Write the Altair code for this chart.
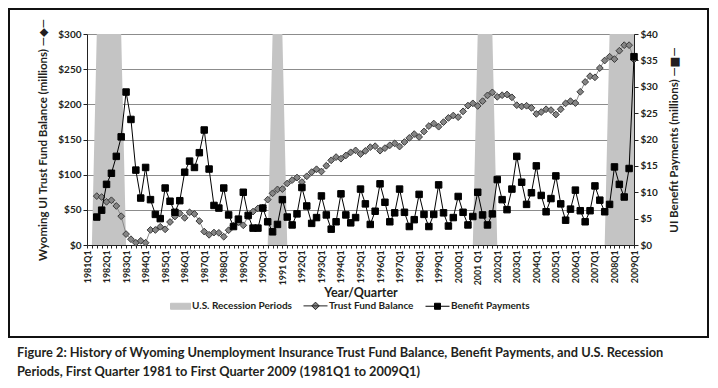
import altair as alt
import pandas as pd

# ---------------- data ----------------
years = list(range(1981, 2010))
quarters = [f"{y}Q{q}" for y in years for q in (1, 2, 3, 4)][:113]
quarters = [q.replace("1991Q1", "1991 Q1").replace("2001Q1", "2001 Q1") for q in quarters]

first_quarter = "1981Q3"

# Trust fund balance, $ millions (left axis), 1981Q3 .. 2009Q1
trust_fund = [
    69.5, 68.2, 61.4, 63.6, 55.5, 40.9, 15.5, 8.2, 3.2, 5.9,
    3.2, 21.4, 21.4, 25.9, 22.3, 32.7, 40.5, 45.0, 38.6, 46.4,
    44.1, 34.1, 19.1, 14.5, 17.7, 17.3, 11.8, 21.0, 27.5, 32.5,
    28.0, 40.9, 47.5, 52.0, 53.0, 64.5, 73.5, 79.0, 79.5, 87.5,
    92.3, 95.9, 89.5, 97.7, 103.6, 107.7, 104.5, 112.7, 120.4, 125.0,
    122.7, 127.3, 131.8, 134.5, 129.3, 133.8, 139.1, 140.5, 134.1, 137.7,
    141.8, 144.5, 140.0, 146.4, 152.3, 157.7, 153.6, 161.4, 169.1, 172.7,
    168.2, 174.7, 180.7, 184.1, 181.8, 190.0, 198.2, 201.4, 197.7, 204.5,
    212.7, 217.0, 210.7, 213.0, 214.0, 210.0, 198.8, 197.0, 198.0, 195.0,
    186.4, 189.0, 193.0, 191.8, 185.5, 193.0, 201.4, 204.5, 201.8, 217.8,
    231.8, 240.0, 238.4, 251.6, 262.3, 267.7, 264.3, 276.2, 284.1, 284.1,
    263.6,
]

# UI benefit payments, $ millions (right axis), 1981Q3 .. 2009Q1
benefits = [
    5.3, 6.6, 11.5, 13.6, 16.8, 20.5, 29.0, 23.8, 14.2, 8.9,
    14.7, 8.6, 5.8, 5.0, 10.8, 8.3, 6.2, 8.4, 13.8, 15.9,
    14.7, 17.5, 21.8, 14.4, 7.5, 7.0, 10.8, 5.7, 3.5, 4.9,
    10.0, 5.6, 3.2, 3.2, 7.0, 4.4, 2.5, 3.9, 8.6, 5.3,
    3.8, 5.9, 10.9, 7.4, 4.1, 5.2, 9.3, 5.7, 3.0, 4.4,
    9.7, 5.7, 4.2, 5.2, 10.6, 7.8, 3.9, 6.4, 11.6, 8.1,
    4.4, 6.1, 10.6, 6.2, 3.5, 4.8, 9.6, 5.8, 3.5, 5.8,
    11.4, 6.1, 3.6, 5.2, 9.2, 6.2, 3.8, 5.4, 10.0, 5.7,
    3.8, 5.9, 12.4, 8.6, 6.7, 10.6, 16.8, 11.9, 7.7, 9.9,
    15.0, 9.4, 6.3, 8.8, 13.1, 7.8, 4.7, 6.8, 10.4, 6.5,
    4.4, 6.5, 11.2, 8.5, 6.3, 7.7, 14.8, 11.5, 9.1, 14.5,
    35.7,
]

recession_periods = [("1981Q3", "1982Q4"), ("1990Q3", "1991 Q1"),
                     ("2001 Q1", "2001Q4"), ("2007Q4", "2009Q1")]
recession_height = 300

series_names = ["U.S. Recession Periods", "Trust Fund Balance", "Benefit Payments"]

left_ticks = [0, 50, 100, 150, 200, 250, 300]
right_ticks = [0, 5, 10, 15, 20, 25, 30, 35, 40]

caption = [
    "Figure 2: History of Wyoming Unemployment Insurance Trust Fund Balance, Benefit Payments, and U.S. Recession",
    "Periods, First Quarter 1981 to First Quarter 2009 (1981Q1 to 2009Q1)",
]

# ---------------- tables ----------------
start = quarters.index(first_quarter)
series_df = pd.DataFrame({"quarter": quarters[start:], "trust": trust_fund, "benefit": benefits})

rec_vals = [0] * len(quarters)
for a, b in recession_periods:
    for i in range(quarters.index(a), quarters.index(b) + 1):
        rec_vals[i] = recession_height
rec_df = pd.DataFrame({"quarter": quarters, "rec": rec_vals})
legend_df = pd.DataFrame({"series": series_names})

# ---------------- styling ----------------
FONT = "Lato, 'DejaVu Sans', sans-serif"
INK = "#231f20"
W, H = 547, 211

x_enc = alt.X(
    "quarter:O",
    scale=alt.Scale(type="point", domain=quarters, padding=0),
    axis=alt.Axis(
        title="Year/Quarter", titleFont=FONT, titleFontSize=12.5, titleFontWeight="bold",
        titleColor=INK, titleY=47, titleBaseline="middle",
        labelAngle=270, labelExpr="slice(datum.value, -2) == 'Q1' ? datum.value : ''",
        labelOverlap=False, labelFont=FONT, labelFontSize=8.8, labelFontWeight="bold",
        labelColor=INK, labelPadding=2, tickSize=3, tickColor="#222", domainColor="#222",
        grid=False,
    ),
)

left_axis = alt.Axis(
    title="Wyoming UI Trust Fund Balance (millions) \u2014\u25c6\u2014",
    titleFont=FONT, titleFontSize=11.5, titleFontWeight="bold", titleColor=INK,
    titleX=-44, titleY=H / 2, titleAngle=270, titleAlign="center", titleBaseline="middle",
    values=left_ticks, labelExpr="'$' + datum.value", labelFont=FONT, labelFontSize=10,
    labelFontWeight="bold", labelColor=INK, tickSize=4, tickColor="#222",
    domainColor="#222", grid=True, gridColor="#8c8c8c", gridWidth=1,
)
left_scale = alt.Scale(domain=[0, 300], nice=False)

area = alt.Chart(rec_df).mark_area(color="#c4c4c4", opacity=1, interpolate="linear").encode(
    x=x_enc, y=alt.Y("rec:Q", scale=left_scale, axis=left_axis)
)

trust_base = alt.Chart(series_df).encode(
    x=x_enc,
    y=alt.Y("trust:Q", scale=left_scale, axis=left_axis),
)
trust_line = trust_base.mark_line(color="#8a8a8a", strokeWidth=1)
trust_pts = trust_base.mark_point(shape="diamond", size=46, filled=True, fill="#858585",
                                  stroke="#3a3a3a", strokeWidth=1, opacity=1)

frame = alt.Chart(legend_df.head(1)).mark_rect(filled=False, stroke="#111", strokeWidth=2).encode(
    x=alt.value(-78), x2=alt.value(W + 74), y=alt.value(-25), y2=alt.value(H + 92)
)

rect_path = "M0,-0.6L4,-0.6L4,0.6L0,0.6Z"
dia_path = "M-0.8,0L4,0M1.6,-0.75L2.35,0L1.6,0.75L0.85,0Z"
sq_path = "M-0.8,0L4,0M1,-0.6L2.2,-0.6L2.2,0.6L1,0.6Z"

legend_layer = alt.Chart(legend_df).mark_point(opacity=1, filled=True).encode(
    shape=alt.Shape(
        "series:N",
        scale=alt.Scale(domain=series_names, range=[rect_path, dia_path, sq_path]),
        legend=alt.Legend(
            title=None, orient="none", legendX=78, legendY=266, direction="horizontal",
            symbolSize=100, symbolStrokeWidth=1, labelFont=FONT, labelFontSize=10,
            labelFontWeight="bold", labelColor=INK, labelOffset=16, columnPadding=9,
        ),
    ),
    fill=alt.Fill("series:N", scale=alt.Scale(domain=series_names, range=["#c4c4c4", "#858585", "#000000"])),
    stroke=alt.Stroke("series:N", scale=alt.Scale(domain=series_names, range=["#c4c4c4", "#222222", "#000000"])),
).transform_filter("false")

ben_base = alt.Chart(series_df).encode(
    x=x_enc,
    y=alt.Y(
        "benefit:Q",
        scale=alt.Scale(domain=[0, 40], nice=False),
        axis=alt.Axis(
            orient="right", title="UI Benefit Payments (millions) \u2014\u25a0\u2014",
            titleFont=FONT, titleFontSize=11.5, titleFontWeight="bold", titleColor=INK,
            titleX=40, titleY=H / 2, titleAngle=270, titleAlign="center", titleBaseline="middle",
            values=right_ticks, labelExpr="'$' + datum.value", labelFont=FONT, labelFontSize=10,
            labelFontWeight="bold", labelColor=INK, tickSize=4, tickColor="#222",
            domainColor="#222", grid=False,
        ),
    ),
)
ben_line = ben_base.mark_line(color="#000000", strokeWidth=1)
ben_pts = ben_base.mark_point(shape="square", size=42, filled=True, fill="#000000",
                              stroke="#000000", strokeWidth=1, opacity=1)

left = alt.layer(frame, area, trust_line, trust_pts, legend_layer)
right = alt.layer(ben_line, ben_pts)

chart = alt.layer(left, right).resolve_scale(
    y="independent"
).properties(
    width=W, height=H,
    background="white",
    autosize=alt.AutoSizeParams(type="none"),
    padding={"left": 79, "top": 26, "right": 76, "bottom": 135},
    title=alt.TitleParams(
        text=caption, orient="bottom", anchor="start", frame="bounds", offset=9, dx=9,
        font=FONT, fontSize=12.8, fontWeight="bold", color=INK, lineHeight=19, baseline="top",
    ),
).configure_view(strokeWidth=0)

chart.save("out.html", embed_options={"renderer": "svg", "actions": False})
